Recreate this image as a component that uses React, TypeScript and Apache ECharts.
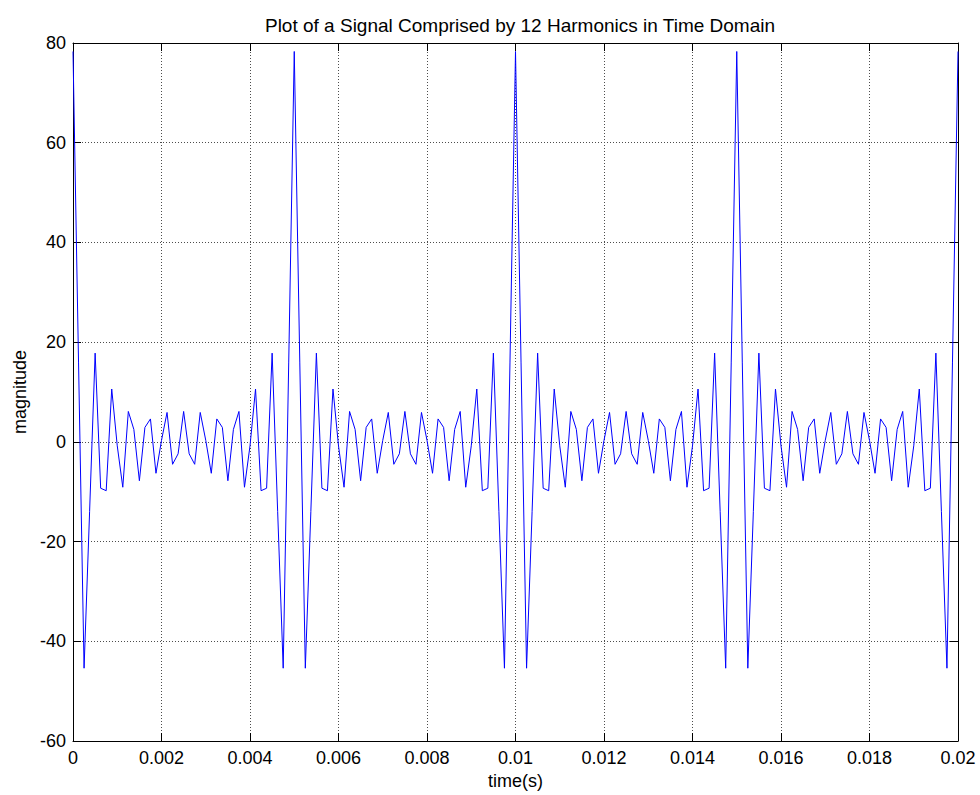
import React, { useEffect, useRef } from "react";
import * as echarts from "echarts";

const TITLE = "Plot of a Signal Comprised by 12 Harmonics in Time Domain";
const X_NAME = "time(s)";
const Y_NAME = "magnitude";
const X_MIN = 0;
const X_MAX = 0.02;
const X_STEP = 0.002;
const Y_MIN = -60;
const Y_MAX = 80;
const Y_STEP = 20;
const SAMPLE_STEP = 0.000125;

// signal magnitude, one value per sample (161 samples)
const magnitude = [
  78.3, 16, -45.4, -14, 17.8, -9.3, -9.8, 10.6, -0.8, -9.1, 6.1, 2.5, -7.8, 2.9, 4.6, -6.3, 0.3, 5.9, -4.5, -2.4,
  6.1, -2.4, -4.5, 5.9, 0.3, -6.3, 4.6, 2.9, -7.8, 2.5, 6.1, -9.1, -0.8, 10.6, -9.8, -9.3, 17.8, -14, -45.4, 16,
  78.3, 16, -45.4, -14, 17.8, -9.3, -9.8, 10.6, -0.8, -9.1, 6.1, 2.5, -7.8, 2.9, 4.6, -6.3, 0.3, 5.9, -4.5, -2.4,
  6.1, -2.4, -4.5, 5.9, 0.3, -6.3, 4.6, 2.9, -7.8, 2.5, 6.1, -9.1, -0.8, 10.6, -9.8, -9.3, 17.8, -14, -45.4, 16,
  78.3, 16, -45.4, -14, 17.8, -9.3, -9.8, 10.6, -0.8, -9.1, 6.1, 2.5, -7.8, 2.9, 4.6, -6.3, 0.3, 5.9, -4.5, -2.4,
  6.1, -2.4, -4.5, 5.9, 0.3, -6.3, 4.6, 2.9, -7.8, 2.5, 6.1, -9.1, -0.8, 10.6, -9.8, -9.3, 17.8, -14, -45.4, 16,
  78.3, 16, -45.4, -14, 17.8, -9.3, -9.8, 10.6, -0.8, -9.1, 6.1, 2.5, -7.8, 2.9, 4.6, -6.3, 0.3, 5.9, -4.5, -2.4,
  6.1, -2.4, -4.5, 5.9, 0.3, -6.3, 4.6, 2.9, -7.8, 2.5, 6.1, -9.1, -0.8, 10.6, -9.8, -9.3, 17.8, -14, -45.4, 16,
  78.3,
];

const FONT = "'Liberation Sans', Arial, Helvetica, sans-serif";

export default function App() {
  const ref = useRef<HTMLDivElement>(null);

  useEffect(() => {
    document.body.style.margin = "0";
    if (!ref.current) return;
    const chart = echarts.init(ref.current, undefined, { renderer: "svg" });

    const data = magnitude.map((v, i) => [+(i * SAMPLE_STEP).toFixed(6), v]);

    const tickCommon = {
      show: true,
      inside: true,
      length: 8,
      lineStyle: { color: "#000", width: 1 },
    };
    const lineCommon = { show: true, onZero: false, lineStyle: { color: "#000", width: 1 } };
    const gridLine = {
      show: true,
      lineStyle: { color: "#4d4d4d", width: 1, type: [1, 2] as any },
    };
    const labelStyle = { color: "#000", fontSize: 18, fontFamily: FONT };

    chart.setOption({
      animation: false,
      backgroundColor: "#fff",
      title: {
        text: TITLE,
        left: 515,
        textAlign: "center",
        top: 11,
        textStyle: { color: "#000", fontSize: 19, fontWeight: "normal", fontFamily: FONT },
      },
      grid: { left: 73, right: 22, top: 43, bottom: 54 },
      xAxis: [
        {
          type: "value",
          position: "bottom",
          min: X_MIN,
          max: X_MAX,
          interval: X_STEP,
          name: X_NAME,
          nameLocation: "middle",
          nameGap: 25,
          nameTextStyle: { ...labelStyle },
          axisLine: lineCommon,
          axisTick: tickCommon,
          splitLine: gridLine,
          axisLabel: {
            ...labelStyle,
            margin: 8,
            formatter: (v: number) => String(parseFloat(v.toFixed(4))),
          },
        },
        {
          type: "value",
          position: "top",
          min: X_MIN,
          max: X_MAX,
          interval: X_STEP,
          axisLine: lineCommon,
          axisTick: tickCommon,
          splitLine: { show: false },
          axisLabel: { show: false },
        },
      ],
      yAxis: [
        {
          type: "value",
          position: "left",
          min: Y_MIN,
          max: Y_MAX,
          interval: Y_STEP,
          name: Y_NAME,
          nameLocation: "middle",
          nameGap: 43,
          nameRotate: 90,
          nameTextStyle: { ...labelStyle },
          axisLine: lineCommon,
          axisTick: tickCommon,
          splitLine: gridLine,
          axisLabel: { ...labelStyle, margin: 7 },
        },
        {
          type: "value",
          position: "right",
          min: Y_MIN,
          max: Y_MAX,
          interval: Y_STEP,
          axisLine: lineCommon,
          axisTick: tickCommon,
          splitLine: { show: false },
          axisLabel: { show: false },
        },
      ],
      series: [
        {
          type: "line",
          xAxisIndex: 0,
          yAxisIndex: 0,
          data,
          showSymbol: false,
          symbol: "none",
          lineStyle: { color: "#0000ff", width: 1 },
          clip: true,
        },
      ],
    });

    return () => chart.dispose();
  }, []);

  return <div ref={ref} style={{ width: 980, height: 795 }} />;
}
